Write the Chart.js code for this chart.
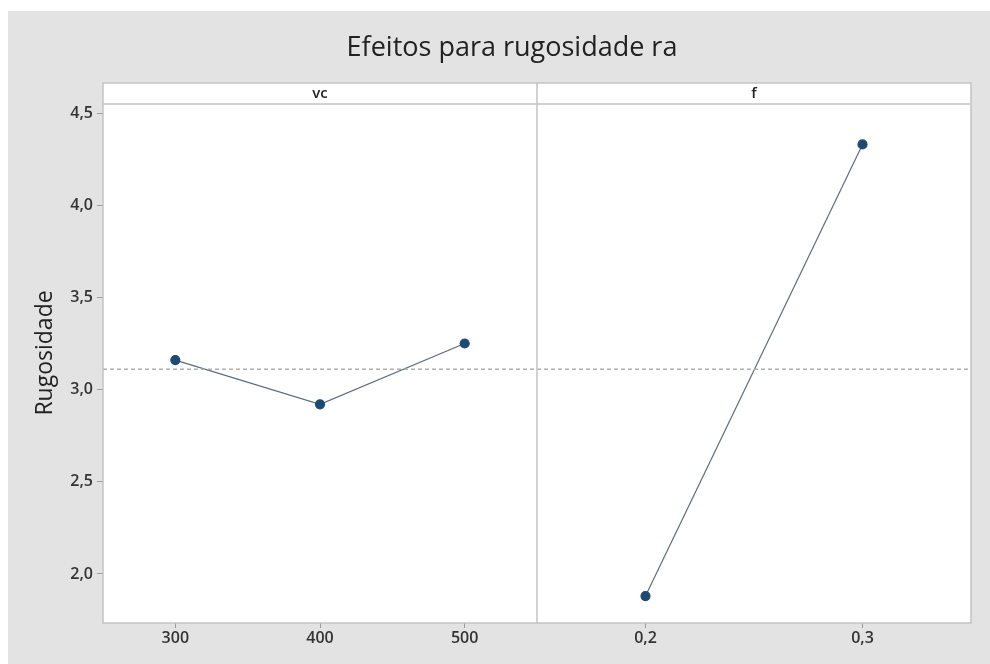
<!DOCTYPE html>
<html>
<head>
<meta charset="utf-8">
<title>Efeitos para rugosidade ra</title>
<script src="https://cdn.jsdelivr.net/npm/chart.js@4.4.0/dist/chart.umd.min.js"></script>
<style>
  html, body { margin: 0; padding: 0; background: #ffffff; }
  canvas { display: block; }
</style>
</head>
<body>
<canvas id="effects" width="990" height="664"></canvas>
<script>
// Factor levels and mean roughness at each level
const vcLevels = [300, 400, 500];
const vcMeans = [3.16, 2.92, 3.25];
const fLevels = [0.2, 0.3];
const fMeans = [1.88, 4.33];

// Overall mean (dashed reference line)
const grandMean = 3.11;

// Axis ticks and limits
const yTicks = [2.0, 2.5, 3.0, 3.5, 4.0, 4.5];
const vcRange = [250, 550];
const fRange = [0.15, 0.35];
const yRange = [1.734, 4.663];

const panelNames = ['vc', 'f'];
const HEADER_H = 21;

const commaNum = v => Number(v).toFixed(1).replace('.', ',');

Chart.defaults.font.family = "'Open Sans', 'Noto Sans', sans-serif";
Chart.defaults.color = '#333333';

const MARK = '#1d4a73';
const LINK = '#5d6d7c';
const FRAME = '#c3c3c3';

// Background, panel frame, header strips and divider
const panelFrame = {
  id: 'panelFrame',
  beforeDraw(chart) {
    const { ctx, chartArea: a, width, height } = chart;
    ctx.save();
    ctx.fillStyle = '#ffffff';
    ctx.fillRect(0, 0, width, height);
    ctx.fillStyle = '#e3e3e3';
    ctx.fillRect(8, 11, width - 8, height - 11);
    ctx.fillStyle = '#ffffff';
    ctx.fillRect(a.left, a.top, a.right - a.left, a.bottom - a.top);
    ctx.restore();
  },
  afterDatasetsDraw(chart) {
    const { ctx, chartArea: a, scales } = chart;
    const split = scales.xVc.right;
    const hb = a.top + HEADER_H;
    ctx.save();
    // header strip
    ctx.fillStyle = '#ffffff';
    ctx.fillRect(a.left, a.top, a.right - a.left, HEADER_H);
    ctx.strokeStyle = FRAME;
    ctx.lineWidth = 1.5;
    ctx.beginPath();
    ctx.moveTo(a.left, hb);
    ctx.lineTo(a.right, hb);
    ctx.moveTo(split, a.top);
    ctx.lineTo(split, a.bottom);
    ctx.stroke();
    ctx.strokeRect(a.left, a.top, a.right - a.left, a.bottom - a.top);
    // header labels
    ctx.fillStyle = '#222222';
    ctx.font = "600 15px 'Open Sans', sans-serif";
    ctx.textAlign = 'center';
    ctx.textBaseline = 'middle';
    const cy = a.top + HEADER_H / 2;
    ctx.fillText(panelNames[0], (scales.xVc.left + scales.xVc.right) / 2, cy);
    ctx.fillText(panelNames[1], (scales.xF.left + scales.xF.right) / 2, cy);
    ctx.restore();
  }
};

const tickFont = { size: 16, weight: '600' };
const tickGrid = { display: true, drawOnChartArea: false, drawTicks: true, tickLength: 5, color: '#9a9a9a' };

new Chart(document.getElementById('effects'), {
  type: 'scatter',
  data: {
    datasets: [
      {
        label: 'média vc',
        data: vcRange.map(x => ({ x, y: grandMean })),
        xAxisID: 'xVc', yAxisID: 'y',
        showLine: true, pointRadius: 0,
        borderColor: '#b0b0b0', borderWidth: 1.5, borderDash: [4, 3]
      },
      {
        label: 'média f',
        data: fRange.map(x => ({ x, y: grandMean })),
        xAxisID: 'xF', yAxisID: 'y',
        showLine: true, pointRadius: 0,
        borderColor: '#b0b0b0', borderWidth: 1.5, borderDash: [4, 3]
      },
      {
        label: 'vc',
        data: vcLevels.map((x, i) => ({ x, y: vcMeans[i] })),
        xAxisID: 'xVc', yAxisID: 'y',
        showLine: true, borderColor: LINK, borderWidth: 1.2,
        pointRadius: 4.5, pointBackgroundColor: MARK, pointBorderColor: MARK
      },
      {
        label: 'f',
        data: fLevels.map((x, i) => ({ x, y: fMeans[i] })),
        xAxisID: 'xF', yAxisID: 'y',
        showLine: true, borderColor: LINK, borderWidth: 1.2,
        pointRadius: 4.5, pointBackgroundColor: MARK, pointBorderColor: MARK
      }
    ]
  },
  options: {
    responsive: false,
    animation: false,
    layout: { padding: { top: 11, left: 34, right: 0, bottom: 0 } },
    plugins: {
      legend: { display: false },
      tooltip: { enabled: false },
      title: {
        display: true,
        text: 'Efeitos para rugosidade ra',
        color: '#222222',
        font: { size: 27, weight: 'normal', lineHeight: 1.2 },
        padding: { top: 20.8, bottom: 18.8 }
      }
    },
    scales: {
      xVc: {
        type: 'linear', position: 'bottom', stack: 'panels', stackWeight: 1,
        min: vcRange[0], max: vcRange[1],
        grid: tickGrid, border: { display: false },
        ticks: { font: tickFont, color: '#333333', padding: 1 },
        afterBuildTicks: s => { s.ticks = vcLevels.map(v => ({ value: v })); },
        afterFit: s => { s.height = 41; }
      },
      xF: {
        type: 'linear', position: 'bottom', stack: 'panels', stackWeight: 1,
        min: fRange[0], max: fRange[1],
        grid: tickGrid, border: { display: false },
        ticks: { font: tickFont, color: '#333333', padding: 1, callback: v => commaNum(v) },
        afterBuildTicks: s => { s.ticks = fLevels.map(v => ({ value: v })); },
        afterFit: s => { s.height = 41; }
      },
      y: {
        type: 'linear', position: 'left',
        min: yRange[0], max: yRange[1],
        grid: { ...tickGrid, tickLength: 6 }, border: { display: false },
        ticks: { font: tickFont, color: '#333333', padding: 4, callback: v => commaNum(v) },
        afterBuildTicks: s => { s.ticks = yTicks.map(v => ({ value: v })); },
        title: {
          display: true, text: 'Rugosidade', color: '#222222',
          font: { size: 23, weight: 'normal', lineHeight: 1 },
          padding: { top: 0, bottom: 0 }
        },
        afterFit: s => { s.width = 69; }
      },
      edge: {
        type: 'linear', position: 'right', display: true,
        grid: { display: false }, border: { display: false },
        ticks: { display: false },
        afterFit: s => { s.width = 19; }
      }
    }
  },
  plugins: [panelFrame]
});
</script>
</body>
</html>
